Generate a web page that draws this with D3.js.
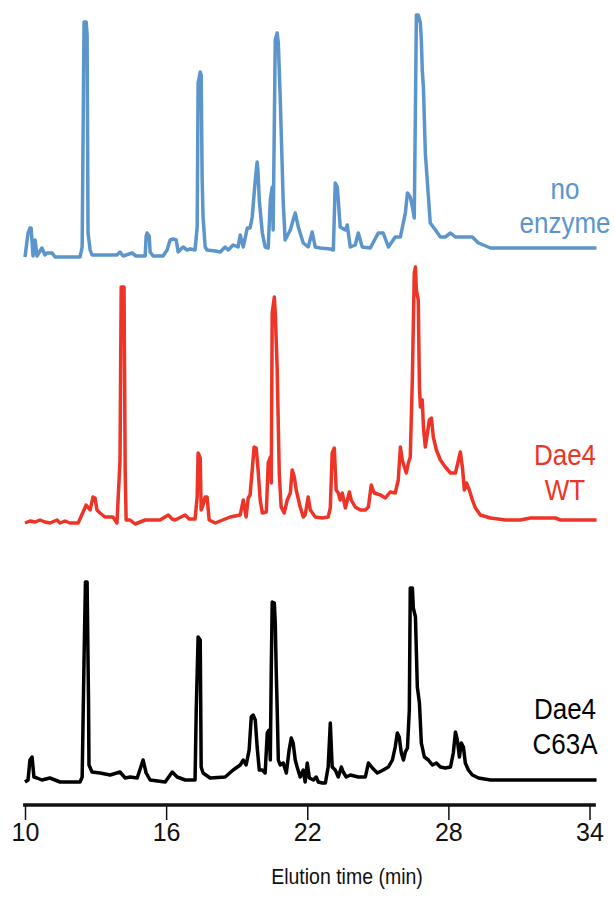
<!DOCTYPE html>
<html>
<head>
<meta charset="utf-8">
<script src="https://cdn.jsdelivr.net/npm/d3@7"></script>
<style>
  html, body { margin: 0; padding: 0; background: #fff; }
  svg { display: block; }
  text { font-family: "Liberation Sans", Arial, Helvetica, sans-serif; }
</style>
</head>
<body>
<div id="chart"></div>
<script>
// ---- Data (elution time in min, detector signal in arbitrary units) ----
const xTicks = [10, 16, 22, 28, 34];
const xLabel = "Elution time (min)";

const seriesNames = ["no enzyme", "Dae4 WT", "Dae4 C63A"];
const seriesLabels = [["no", "enzyme"], ["Dae4", "WT"], ["Dae4", "C63A"]];
const seriesColors = ["#5b95cb", "#ee3427", "#000000"];

const noEnzyme = [
  [10.00,0],[10.13,24],[10.21,29],[10.26,29],[10.34,1],[10.43,17],[10.51,1],[10.72,9],[10.85,2],
  [10.94,4],[11.15,4],[11.28,0],[12.34,0],[12.43,10],[12.51,235],[12.60,235],[12.64,222],[12.68,24],
  [12.77,7],[12.85,2],[13.19,2],[13.49,2],[13.91,2],[14.04,5],[14.17,1],[14.55,4],[14.72,1],[15.11,1],
  [15.15,21],[15.19,24],[15.28,21],[15.32,5],[15.45,1],[15.87,1],[16.04,7],[16.17,17],[16.30,18],
  [16.43,17],[16.51,5],[16.72,10],[16.89,7],[17.02,8],[17.23,7],[17.32,30],[17.36,174],[17.45,185],
  [17.49,182],[17.53,80],[17.57,40],[17.66,10],[17.74,7],[18.09,6],[18.30,5],[18.51,10],[18.64,7],
  [18.85,12],[19.06,10],[19.15,22],[19.28,10],[19.45,29],[19.57,29],[19.66,40],[19.79,77],[19.87,95],
  [19.91,84],[19.96,57],[20.09,24],[20.21,10],[20.34,9],[20.43,57],[20.51,70],[20.55,27],[20.64,217],
  [20.72,224],[20.77,214],[20.85,160],[20.98,54],[21.06,17],[21.28,27],[21.40,37],[21.49,44],[21.62,30],
  [21.83,14],[22.04,10],[22.21,25],[22.34,10],[22.55,9],[22.98,8],[23.11,7],[23.19,74],[23.28,70],
  [23.40,30],[23.62,27],[23.70,32],[23.83,10],[24.04,12],[24.17,24],[24.34,10],[24.68,9],[25.02,24],
  [25.23,24],[25.45,10],[25.74,20],[25.96,20],[26.17,44],[26.26,64],[26.38,60],[26.47,50],[26.55,39],
  [26.64,242],[26.72,242],[26.81,234],[26.85,217],[26.89,187],[26.94,169],[27.02,104],[27.11,74],
  [27.23,34],[27.45,27],[27.66,20],[27.87,20],[28.09,24],[28.30,20],[28.72,20],[29.02,20],[29.28,14],
  [29.79,9],[34.30,9]
];

const dae4WT = [
  [10.00,0],[10.21,2],[10.43,1],[10.64,3],[10.85,1],[11.06,0],[11.36,3],[11.49,0],[11.70,2],[11.91,0],
  [12.26,0],[12.47,11],[12.60,18],[12.77,13],[12.89,26],[12.98,25],[13.06,13],[13.19,10],[13.40,6],
  [13.74,6],[13.91,0],[14.04,63],[14.09,236],[14.21,236],[14.26,51],[14.30,3],[14.47,3],[14.68,-1],
  [15.11,3],[15.74,3],[16.09,8],[16.26,4],[16.38,3],[16.81,8],[16.98,4],[17.23,4],[17.32,26],[17.36,70],
  [17.45,65],[17.49,13],[17.57,18],[17.66,26],[17.74,26],[17.83,3],[18.09,0],[18.72,6],[19.15,8],
  [19.28,23],[19.40,6],[19.49,25],[19.57,28],[19.66,53],[19.74,76],[19.83,75],[19.91,53],[20.00,23],
  [20.09,10],[20.26,11],[20.34,60],[20.43,66],[20.47,40],[20.51,210],[20.60,226],[20.64,210],[20.72,156],
  [20.81,50],[20.89,16],[21.02,10],[21.15,23],[21.28,30],[21.36,53],[21.45,46],[21.53,33],[21.70,16],
  [21.83,6],[21.91,8],[22.04,26],[22.13,13],[22.34,6],[22.64,5],[22.89,6],[22.98,15],[23.06,70],
  [23.15,75],[23.23,33],[23.32,30],[23.40,23],[23.49,30],[23.62,15],[23.79,31],[23.87,23],[24.04,16],
  [24.26,13],[24.47,13],[24.60,16],[24.72,38],[24.85,30],[25.11,28],[25.32,25],[25.53,31],[25.74,30],
  [25.87,43],[25.96,76],[26.04,63],[26.13,56],[26.21,50],[26.30,60],[26.38,66],[26.47,146],[26.55,250],
  [26.60,256],[26.64,233],[26.72,223],[26.77,136],[26.81,116],[26.89,123],[26.94,96],[27.02,76],
  [27.11,90],[27.19,103],[27.28,105],[27.36,86],[27.49,73],[27.66,63],[27.87,56],[28.09,50],[28.30,50],
  [28.43,63],[28.51,71],[28.60,55],[28.68,33],[28.77,40],[28.89,33],[29.02,23],[29.15,15],[29.36,8],
  [29.79,5],[30.43,3],[31.06,3],[31.49,5],[32.55,5],[32.77,3],[34.30,3]
];

const dae4C63A = [
  [10.00,0],[10.13,2],[10.21,22],[10.30,25],[10.38,5],[10.51,4],[10.72,2],[11.06,4],[11.49,0],[12.34,0],
  [12.43,5],[12.51,122],[12.57,200],[12.64,200],[12.70,82],[12.72,17],[12.85,10],[13.19,9],[13.62,7],
  [14.04,10],[14.26,4],[14.47,5],[14.77,4],[15.02,22],[15.15,9],[15.32,2],[15.96,0],[16.26,10],[16.47,5],
  [16.81,2],[17.23,2],[17.28,72],[17.36,145],[17.45,142],[17.49,15],[17.57,9],[17.87,4],[18.51,5],
  [18.85,12],[19.15,17],[19.28,22],[19.40,17],[19.53,32],[19.62,65],[19.70,67],[19.79,62],[19.87,35],
  [19.96,12],[20.09,12],[20.21,9],[20.30,49],[20.38,52],[20.43,22],[20.47,112],[20.51,180],[20.60,179],
  [20.64,159],[20.68,112],[20.72,75],[20.77,22],[20.85,17],[20.98,19],[21.11,9],[21.23,32],[21.32,44],
  [21.40,39],[21.49,22],[21.57,15],[21.70,5],[21.83,12],[21.91,0],[22.00,19],[22.09,4],[22.26,2],
  [22.38,5],[22.47,0],[22.64,-1],[22.77,-1],[22.89,15],[22.98,59],[23.06,15],[23.19,12],[23.32,5],
  [23.45,15],[23.53,10],[23.66,5],[23.83,7],[24.17,5],[24.47,5],[24.60,19],[24.77,14],[24.98,9],
  [25.23,12],[25.45,15],[25.62,22],[25.74,35],[25.83,49],[25.91,45],[26.00,29],[26.09,22],[26.17,30],
  [26.26,34],[26.34,72],[26.38,194],[26.47,194],[26.51,174],[26.60,165],[26.68,95],[26.77,79],[26.85,39],
  [26.98,25],[27.15,22],[27.32,17],[27.49,19],[27.66,15],[27.87,14],[28.09,15],[28.21,29],[28.30,50],
  [28.38,42],[28.47,25],[28.55,39],[28.64,35],[28.72,19],[28.85,12],[29.02,7],[29.28,4],[29.79,2],
  [34.30,2]
];

const seriesData = [noEnzyme, dae4WT, dae4C63A];

// ---- Layout ----
const W = 615, H = 916;
const baselines = [257, 523, 782];   // pixel baseline of each stacked trace
const panelHeight = 250;
const axisY = 805;

const svg = d3.select("#chart").append("svg")
  .attr("width", W).attr("height", H);

const x = d3.scaleLinear().domain([10, 34]).range([25, 589.5]);

seriesData.forEach((data, i) => {
  const y = d3.scaleLinear().domain([0, 250]).range([baselines[i], baselines[i] - panelHeight]);
  const line = d3.line().x(d => x(d[0])).y(d => y(d[1])).curve(d3.curveLinear);
  svg.append("path")
    .datum(data)
    .attr("d", line)
    .attr("fill", "none")
    .attr("stroke", seriesColors[i])
    .attr("stroke-width", 3.5)
    .attr("stroke-linejoin", "round")
    .attr("stroke-linecap", "butt");
});

// Series labels (slightly tall lettering as in the original)
const labelX = 565;
const labelBaselines = [[199, 233], [465, 500], [719, 754]];
seriesLabels.forEach((lines, i) => {
  lines.forEach((t, j) => {
    svg.append("text")
      .attr("transform", `translate(${labelX},${labelBaselines[i][j]}) scale(1,1.12)`)
      .attr("text-anchor", "middle")
      .attr("font-size", 26)
      .attr("fill", seriesColors[i])
      .text(t);
  });
});

// X axis
const axisG = svg.append("g").attr("transform", `translate(0,${axisY})`);
axisG.call(d3.axisBottom(x).tickValues(xTicks).tickSize(15).tickSizeOuter(0).tickPadding(3));
axisG.select(".domain").remove();
axisG.selectAll(".tick line").attr("stroke", "#111").attr("stroke-width", 1.5);
axisG.selectAll(".tick text")
  .attr("font-size", 25)
  .attr("fill", "#111")
  .style("font-family", '"Liberation Sans", Arial, sans-serif');
axisG.append("line")
  .attr("x1", x(9.92)).attr("x2", x(34.27))
  .attr("y1", 0).attr("y2", 0)
  .attr("stroke", "#111").attr("stroke-width", 3.5);

svg.append("text")
  .attr("transform", "translate(347,884) scale(1,1.12)")
  .attr("text-anchor", "middle")
  .attr("font-size", 19.5)
  .attr("fill", "#111")
  .text(xLabel);
</script>
</body>
</html>
